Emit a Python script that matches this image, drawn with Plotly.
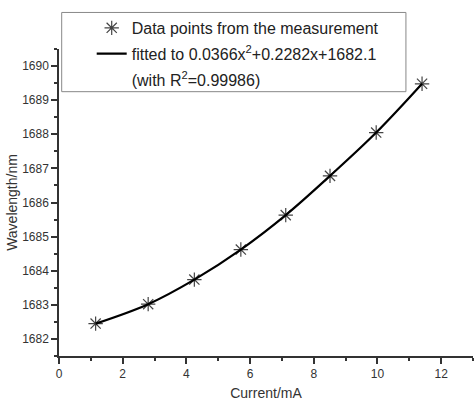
import plotly.graph_objects as go

current_mA = [1.15, 2.80, 4.25, 5.71, 7.12, 8.51, 9.96, 11.40]
wavelength_nm = [1682.45, 1683.02, 1683.74, 1684.62, 1685.63, 1686.78, 1688.05, 1689.48]

x_ticks = [0, 2, 4, 6, 8, 10, 12]
y_ticks = [1682, 1683, 1684, 1685, 1686, 1687, 1688, 1689, 1690]

legend_data = "Data points from the measurement"
legend_fit = "fitted to 0.0366x<sup>2</sup>+0.2282x+1682.1"
legend_r2 = "(with R<sup>2</sup>=0.99986)"

FONT = "Liberation Sans, Arial, sans-serif"

fig = go.Figure()

fig.add_trace(go.Scatter(
    x=current_mA, y=wavelength_nm, mode="markers", name=legend_data,
    legendgroup="a",
    marker=dict(symbol="asterisk-open", size=12, color="#444",
                line=dict(color="#444", width=1.2)),
))
fig.add_trace(go.Scatter(
    x=current_mA, y=wavelength_nm, mode="lines", name=legend_fit,
    legendgroup="b",
    line=dict(color="black", width=2.2, shape="spline", smoothing=1.0),
))
fig.add_trace(go.Scatter(
    x=[None], y=[None], mode="lines", name=legend_r2,
    legendgroup="c",
    line=dict(color="rgba(0,0,0,0)", width=0),
))

axis_common = dict(
    showline=True, linecolor="#333", linewidth=1.5,
    ticks="outside", ticklen=6, tickwidth=1.5, tickcolor="#333",
    showgrid=False, zeroline=False,
    tickfont=dict(family=FONT, size=12, color="#333"),
)

fig.update_xaxes(
    range=[0, 13], tickvals=x_ticks,
    minor=dict(dtick=1, ticks="outside", ticklen=3, tickwidth=1.5, tickcolor="#333", showgrid=False),
    title=dict(text="Current/mA", font=dict(family=FONT, size=14, color="#333"), standoff=8),
    **axis_common,
)
fig.update_yaxes(
    range=[1681.5, 1690.5], tickvals=y_ticks,
    minor=dict(dtick=0.5, ticks="outside", ticklen=3, tickwidth=1.5, tickcolor="#333", showgrid=False),
    title=dict(text="Wavelength/nm", font=dict(family=FONT, size=14, color="#333"), standoff=1),
    **axis_common,
)

fig.add_shape(type="rect", xref="paper", yref="paper",
              x0=0.0065, x1=0.838, y0=0.861, y1=1.119,
              line=dict(color="#888", width=1), fillcolor="rgba(0,0,0,0)")

fig.update_layout(
    width=474, height=406,
    margin=dict(l=59, r=1, t=49, b=50),
    plot_bgcolor="white", paper_bgcolor="white",
    font=dict(family=FONT, color="#222"),
    showlegend=True,
    legend=dict(
        x=0.079, y=1.124, xanchor="left", yanchor="top",
        bgcolor="rgba(0,0,0,0)", borderwidth=0,
        font=dict(family=FONT, size=16, color="#222"),
        tracegroupgap=2,
    ),
)

fig.write_html("out.html")
